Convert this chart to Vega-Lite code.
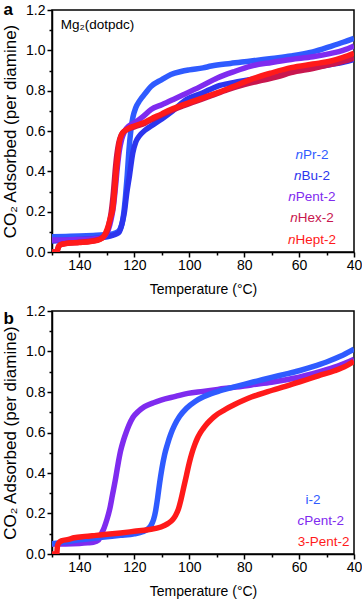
{
  "$schema": "https://vega.github.io/schema/vega-lite/v6.json",
  "padding": {"left": 0, "top": 0, "right": 0, "bottom": 0},
  "spacing": 5,
  "resolve": {"scale": {"color": "independent"}},
  "config": {
    "font": "Liberation Sans",
    "view": {"stroke": "black", "strokeWidth": 1.5},
    "axis": {"grid": false, "domainColor": "black", "domainWidth": 1.5, "tickColor": "black", "tickWidth": 1.5, "tickSize": 5, "labelFontSize": 14, "labelColor": "black", "labelFont": "Liberation Sans", "titleFont": "Liberation Sans", "titleFontSize": 14, "titleFontWeight": "normal", "titleColor": "black", "labelPadding": 2}
  },
  "datasets": {
    "a": [
      {"s":"nPr-2","T":150,"v":0.075},{"s":"nPr-2","T":145,"v":0.077},{"s":"nPr-2","T":140,"v":0.079},{"s":"nPr-2","T":135,"v":0.082},{"s":"nPr-2","T":131,"v":0.085},{"s":"nPr-2","T":128,"v":0.09},{"s":"nPr-2","T":126,"v":0.1},{"s":"nPr-2","T":124.5,"v":0.14},{"s":"nPr-2","T":123.8,"v":0.2},{"s":"nPr-2","T":123.2,"v":0.28},{"s":"nPr-2","T":122.6,"v":0.38},{"s":"nPr-2","T":122,"v":0.5},{"s":"nPr-2","T":121.3,"v":0.6},{"s":"nPr-2","T":120.5,"v":0.67},{"s":"nPr-2","T":119.5,"v":0.715},{"s":"nPr-2","T":118,"v":0.752},{"s":"nPr-2","T":116,"v":0.787},{"s":"nPr-2","T":114,"v":0.82},{"s":"nPr-2","T":110,"v":0.855},{"s":"nPr-2","T":106.7,"v":0.88},{"s":"nPr-2","T":103,"v":0.895},{"s":"nPr-2","T":100,"v":0.903},{"s":"nPr-2","T":95,"v":0.913},{"s":"nPr-2","T":92,"v":0.922},{"s":"nPr-2","T":85,"v":0.935},{"s":"nPr-2","T":77.5,"v":0.947},{"s":"nPr-2","T":70,"v":0.96},{"s":"nPr-2","T":63,"v":0.972},{"s":"nPr-2","T":55,"v":0.992},{"s":"nPr-2","T":48.4,"v":1.02},{"s":"nPr-2","T":44,"v":1.04},{"s":"nPr-2","T":40,"v":1.06},
      {"s":"nBu-2","T":150,"v":0.055},{"s":"nBu-2","T":145,"v":0.058},{"s":"nBu-2","T":140,"v":0.062},{"s":"nBu-2","T":135,"v":0.066},{"s":"nBu-2","T":132,"v":0.07},{"s":"nBu-2","T":130,"v":0.075},{"s":"nBu-2","T":128,"v":0.082},{"s":"nBu-2","T":126.5,"v":0.09},{"s":"nBu-2","T":125.5,"v":0.1},{"s":"nBu-2","T":124.5,"v":0.14},{"s":"nBu-2","T":123.6,"v":0.2},{"s":"nBu-2","T":122.8,"v":0.29},{"s":"nBu-2","T":121.8,"v":0.377},{"s":"nBu-2","T":120.6,"v":0.49},{"s":"nBu-2","T":119.5,"v":0.545},{"s":"nBu-2","T":118.2,"v":0.575},{"s":"nBu-2","T":116,"v":0.605},{"s":"nBu-2","T":113.9,"v":0.625},{"s":"nBu-2","T":110,"v":0.66},{"s":"nBu-2","T":106,"v":0.7},{"s":"nBu-2","T":101.8,"v":0.749},{"s":"nBu-2","T":95,"v":0.79},{"s":"nBu-2","T":89.6,"v":0.823},{"s":"nBu-2","T":84,"v":0.84},{"s":"nBu-2","T":77.5,"v":0.856},{"s":"nBu-2","T":70,"v":0.876},{"s":"nBu-2","T":62.9,"v":0.897},{"s":"nBu-2","T":55,"v":0.915},{"s":"nBu-2","T":48.4,"v":0.93},{"s":"nBu-2","T":44,"v":0.94},{"s":"nBu-2","T":40,"v":0.955},
      {"s":"nPent-2","T":150,"v":0.06},{"s":"nPent-2","T":145,"v":0.06},{"s":"nPent-2","T":140,"v":0.062},{"s":"nPent-2","T":135,"v":0.065},{"s":"nPent-2","T":132,"v":0.07},{"s":"nPent-2","T":130.5,"v":0.085},{"s":"nPent-2","T":129.5,"v":0.11},{"s":"nPent-2","T":128.5,"v":0.16},{"s":"nPent-2","T":127.6,"v":0.23},{"s":"nPent-2","T":126.9,"v":0.32},{"s":"nPent-2","T":126.2,"v":0.42},{"s":"nPent-2","T":125.5,"v":0.5},{"s":"nPent-2","T":124.6,"v":0.56},{"s":"nPent-2","T":123.5,"v":0.6},{"s":"nPent-2","T":122,"v":0.625},{"s":"nPent-2","T":120,"v":0.64},{"s":"nPent-2","T":117,"v":0.67},{"s":"nPent-2","T":113.9,"v":0.707},{"s":"nPent-2","T":110,"v":0.73},{"s":"nPent-2","T":106,"v":0.755},{"s":"nPent-2","T":101.8,"v":0.782},{"s":"nPent-2","T":96,"v":0.82},{"s":"nPent-2","T":89.6,"v":0.864},{"s":"nPent-2","T":84,"v":0.893},{"s":"nPent-2","T":77.5,"v":0.922},{"s":"nPent-2","T":70,"v":0.94},{"s":"nPent-2","T":62.9,"v":0.955},{"s":"nPent-2","T":55,"v":0.968},{"s":"nPent-2","T":48.4,"v":0.985},{"s":"nPent-2","T":44,"v":1.0},{"s":"nPent-2","T":40,"v":1.022},
      {"s":"nHex-2","T":150,"v":0.0},{"s":"nHex-2","T":148.3,"v":0.0},{"s":"nHex-2","T":147.6,"v":0.03},{"s":"nHex-2","T":146,"v":0.04},{"s":"nHex-2","T":140,"v":0.048},{"s":"nHex-2","T":136,"v":0.053},{"s":"nHex-2","T":133.5,"v":0.06},{"s":"nHex-2","T":132,"v":0.068},{"s":"nHex-2","T":131,"v":0.08},{"s":"nHex-2","T":130,"v":0.1},{"s":"nHex-2","T":129.2,"v":0.14},{"s":"nHex-2","T":128.4,"v":0.2},{"s":"nHex-2","T":127.6,"v":0.3},{"s":"nHex-2","T":127,"v":0.4},{"s":"nHex-2","T":126.4,"v":0.48},{"s":"nHex-2","T":125.7,"v":0.54},{"s":"nHex-2","T":124.8,"v":0.58},{"s":"nHex-2","T":123.5,"v":0.6},{"s":"nHex-2","T":120,"v":0.62},{"s":"nHex-2","T":116,"v":0.64},{"s":"nHex-2","T":113.9,"v":0.655},{"s":"nHex-2","T":110,"v":0.68},{"s":"nHex-2","T":104,"v":0.715},{"s":"nHex-2","T":98,"v":0.745},{"s":"nHex-2","T":92,"v":0.775},{"s":"nHex-2","T":86,"v":0.805},{"s":"nHex-2","T":80,"v":0.83},{"s":"nHex-2","T":74,"v":0.85},{"s":"nHex-2","T":68,"v":0.868},{"s":"nHex-2","T":62.9,"v":0.89},{"s":"nHex-2","T":55,"v":0.91},{"s":"nHex-2","T":48.4,"v":0.93},{"s":"nHex-2","T":44,"v":0.945},{"s":"nHex-2","T":40,"v":0.962},
      {"s":"nHept-2","T":150,"v":0.0},{"s":"nHept-2","T":148.6,"v":0.0},{"s":"nHept-2","T":148,"v":0.01},{"s":"nHept-2","T":147.4,"v":0.03},{"s":"nHept-2","T":146.5,"v":0.038},{"s":"nHept-2","T":145,"v":0.042},{"s":"nHept-2","T":140,"v":0.047},{"s":"nHept-2","T":136,"v":0.052},{"s":"nHept-2","T":133.5,"v":0.058},{"s":"nHept-2","T":132,"v":0.066},{"s":"nHept-2","T":131,"v":0.08},{"s":"nHept-2","T":130.3,"v":0.1},{"s":"nHept-2","T":129.5,"v":0.13},{"s":"nHept-2","T":128.7,"v":0.17},{"s":"nHept-2","T":127.9,"v":0.21},{"s":"nHept-2","T":127.2,"v":0.3},{"s":"nHept-2","T":126.6,"v":0.4},{"s":"nHept-2","T":126,"v":0.48},{"s":"nHept-2","T":125.5,"v":0.54},{"s":"nHept-2","T":124.8,"v":0.575},{"s":"nHept-2","T":124.3,"v":0.59},{"s":"nHept-2","T":122.5,"v":0.61},{"s":"nHept-2","T":120,"v":0.625},{"s":"nHept-2","T":116,"v":0.645},{"s":"nHept-2","T":113.9,"v":0.66},{"s":"nHept-2","T":110,"v":0.685},{"s":"nHept-2","T":107.8,"v":0.7},{"s":"nHept-2","T":101.8,"v":0.732},{"s":"nHept-2","T":95,"v":0.765},{"s":"nHept-2","T":89.6,"v":0.79},{"s":"nHept-2","T":84,"v":0.82},{"s":"nHept-2","T":77.5,"v":0.856},{"s":"nHept-2","T":70,"v":0.888},{"s":"nHept-2","T":62.9,"v":0.914},{"s":"nHept-2","T":55,"v":0.932},{"s":"nHept-2","T":48.4,"v":0.947},{"s":"nHept-2","T":44,"v":0.965},{"s":"nHept-2","T":40,"v":0.985}
    ],
    "aLabels": [
      {"s":"nPr-2","pre":"n","rest":"Pr-2","lx":58.6,"ly":0.482},
      {"s":"nBu-2","pre":"n","rest":"Bu-2","lx":59.1,"ly":0.378},
      {"s":"nPent-2","pre":"n","rest":"Pent-2","lx":61.2,"ly":0.274},
      {"s":"nHex-2","pre":"n","rest":"Hex-2","lx":60.5,"ly":0.167},
      {"s":"nHept-2","pre":"n","rest":"Hept-2","lx":61.3,"ly":0.061}
    ],
    "b": [
      {"s":"cPent-2","T":150,"v":0.05},{"s":"cPent-2","T":145,"v":0.05},{"s":"cPent-2","T":140,"v":0.052},{"s":"cPent-2","T":137,"v":0.055},{"s":"cPent-2","T":135,"v":0.058},{"s":"cPent-2","T":133,"v":0.07},{"s":"cPent-2","T":132,"v":0.1},{"s":"cPent-2","T":131,"v":0.13},{"s":"cPent-2","T":130,"v":0.17},{"s":"cPent-2","T":129,"v":0.22},{"s":"cPent-2","T":128,"v":0.29},{"s":"cPent-2","T":127,"v":0.36},{"s":"cPent-2","T":126,"v":0.44},{"s":"cPent-2","T":125,"v":0.51},{"s":"cPent-2","T":124,"v":0.56},{"s":"cPent-2","T":123,"v":0.6},{"s":"cPent-2","T":122,"v":0.635},{"s":"cPent-2","T":120.5,"v":0.675},{"s":"cPent-2","T":118.5,"v":0.705},{"s":"cPent-2","T":116.3,"v":0.728},{"s":"cPent-2","T":113,"v":0.747},{"s":"cPent-2","T":110.3,"v":0.76},{"s":"cPent-2","T":105,"v":0.778},{"s":"cPent-2","T":100.5,"v":0.793},{"s":"cPent-2","T":95,"v":0.803},{"s":"cPent-2","T":89.6,"v":0.813},{"s":"cPent-2","T":83,"v":0.824},{"s":"cPent-2","T":77.4,"v":0.835},{"s":"cPent-2","T":70,"v":0.848},{"s":"cPent-2","T":65.3,"v":0.859},{"s":"cPent-2","T":60,"v":0.873},{"s":"cPent-2","T":55,"v":0.89},{"s":"cPent-2","T":50,"v":0.91},{"s":"cPent-2","T":45,"v":0.933},{"s":"cPent-2","T":40,"v":0.962},
      {"s":"i-2","T":150,"v":0.05},{"s":"i-2","T":145,"v":0.06},{"s":"i-2","T":140,"v":0.07},{"s":"i-2","T":135,"v":0.078},{"s":"i-2","T":130,"v":0.085},{"s":"i-2","T":125,"v":0.092},{"s":"i-2","T":120,"v":0.1},{"s":"i-2","T":117,"v":0.11},{"s":"i-2","T":115,"v":0.125},{"s":"i-2","T":114,"v":0.14},{"s":"i-2","T":113,"v":0.17},{"s":"i-2","T":112.3,"v":0.21},{"s":"i-2","T":111.5,"v":0.28},{"s":"i-2","T":110.8,"v":0.35},{"s":"i-2","T":110,"v":0.42},{"s":"i-2","T":109,"v":0.49},{"s":"i-2","T":108,"v":0.54},{"s":"i-2","T":106.8,"v":0.59},{"s":"i-2","T":105.4,"v":0.635},{"s":"i-2","T":103.5,"v":0.68},{"s":"i-2","T":101,"v":0.72},{"s":"i-2","T":98,"v":0.752},{"s":"i-2","T":95,"v":0.775},{"s":"i-2","T":92,"v":0.792},{"s":"i-2","T":89,"v":0.805},{"s":"i-2","T":85,"v":0.82},{"s":"i-2","T":80,"v":0.838},{"s":"i-2","T":75,"v":0.855},{"s":"i-2","T":70,"v":0.872},{"s":"i-2","T":65,"v":0.888},{"s":"i-2","T":60,"v":0.905},{"s":"i-2","T":55,"v":0.925},{"s":"i-2","T":50,"v":0.948},{"s":"i-2","T":45,"v":0.976},{"s":"i-2","T":40,"v":1.012},
      {"s":"3-Pent-2","T":150,"v":0.0},{"s":"3-Pent-2","T":148.3,"v":0.0},{"s":"3-Pent-2","T":148,"v":0.04},{"s":"3-Pent-2","T":147.5,"v":0.055},{"s":"3-Pent-2","T":146.5,"v":0.065},{"s":"3-Pent-2","T":144,"v":0.072},{"s":"3-Pent-2","T":141.9,"v":0.08},{"s":"3-Pent-2","T":138,"v":0.087},{"s":"3-Pent-2","T":134,"v":0.092},{"s":"3-Pent-2","T":130,"v":0.097},{"s":"3-Pent-2","T":125,"v":0.104},{"s":"3-Pent-2","T":120,"v":0.112},{"s":"3-Pent-2","T":115,"v":0.12},{"s":"3-Pent-2","T":110.3,"v":0.133},{"s":"3-Pent-2","T":107.8,"v":0.15},{"s":"3-Pent-2","T":106,"v":0.17},{"s":"3-Pent-2","T":105,"v":0.19},{"s":"3-Pent-2","T":104,"v":0.22},{"s":"3-Pent-2","T":103,"v":0.27},{"s":"3-Pent-2","T":102,"v":0.33},{"s":"3-Pent-2","T":101,"v":0.39},{"s":"3-Pent-2","T":100,"v":0.45},{"s":"3-Pent-2","T":99,"v":0.5},{"s":"3-Pent-2","T":98,"v":0.54},{"s":"3-Pent-2","T":97,"v":0.573},{"s":"3-Pent-2","T":96,"v":0.598},{"s":"3-Pent-2","T":95,"v":0.618},{"s":"3-Pent-2","T":94,"v":0.636},{"s":"3-Pent-2","T":92.5,"v":0.658},{"s":"3-Pent-2","T":91,"v":0.677},{"s":"3-Pent-2","T":89.6,"v":0.692},{"s":"3-Pent-2","T":87,"v":0.713},{"s":"3-Pent-2","T":83.5,"v":0.738},{"s":"3-Pent-2","T":80,"v":0.76},{"s":"3-Pent-2","T":77.4,"v":0.775},{"s":"3-Pent-2","T":71.4,"v":0.802},{"s":"3-Pent-2","T":65,"v":0.828},{"s":"3-Pent-2","T":59.2,"v":0.852},{"s":"3-Pent-2","T":53,"v":0.88},{"s":"3-Pent-2","T":47.1,"v":0.905},{"s":"3-Pent-2","T":43,"v":0.928},{"s":"3-Pent-2","T":40,"v":0.952}
    ],
    "bLabels": [
      {"s":"i-2","pre":"","rest":"i-2","lx":57.7,"ly":0.267},
      {"s":"cPent-2","pre":"c","rest":"Pent-2","lx":58.1,"ly":0.163},
      {"s":"3-Pent-2","pre":"","rest":"3-Pent-2","lx":60.5,"ly":0.059}
    ],
    "aNote": [{"t":"Mg₂(dotpdc)","lx":146.8,"ly":1.124}]
  },
  "vconcat": [
    {
      "width": 302, "height": 242,
      "title": {"text": "a", "anchor": "start", "frame": "bounds", "fontSize": 17, "fontWeight": "bold", "offset": -16, "dx": 2, "font": "Liberation Sans", "color": "black"},
      "resolve": {"axis": {"x": "independent", "y": "independent"}},
      "layer": [
        {
          "data": {"name": "a"},
          "mark": {"type": "line", "strokeWidth": 5.5, "interpolate": "monotone", "clip": true},
          "encoding": {
            "x": {"field": "T", "type": "quantitative", "scale": {"domain": [40, 150], "reverse": true, "nice": false}, "axis": {"orient": "bottom", "values": [140, 120, 100, 80, 60, 40], "labelFlush": false, "labelPadding": 1.5, "title": "Temperature (°C)", "titlePadding": 10}},
            "y": {"field": "v", "type": "quantitative", "scale": {"domain": [0, 1.2], "nice": false}, "axis": {"orient": "left", "values": [0, 0.2, 0.4, 0.6, 0.8, 1.0, 1.2], "format": ".1f", "title": "CO₂ Adsorbed (per diamine)", "titleFontSize": 17, "titlePadding": 6}},
            "color": {"field": "s", "type": "nominal", "scale": {"domain": ["nPr-2", "nBu-2", "nPent-2", "nHex-2", "nHept-2"], "range": ["#2F5BFF", "#2C35EE", "#7F2BEF", "#C8164E", "#FF1A1A"]}, "legend": null},
            "order": {"field": "T", "sort": "descending"}
          }
        },
        {
          "data": {"name": "aLabels"},
          "mark": {"type": "text", "align": "left", "baseline": "middle", "fontSize": 13.5, "font": "Liberation Sans"},
          "encoding": {
            "x": {"field": "lx", "type": "quantitative", "axis": {"orient": "bottom", "values": [150, 130, 110, 90, 70, 50], "labels": false, "domain": false, "tickSize": 3, "title": null}},
            "y": {"field": "ly", "type": "quantitative", "axis": {"orient": "left", "values": [0.1, 0.3, 0.5, 0.7, 0.9, 1.1], "labels": false, "domain": false, "tickSize": 3, "title": null}},
            "text": {"field": "rest"},
            "color": {"field": "s", "type": "nominal", "legend": null}
          }
        },
        {
          "data": {"name": "aLabels"},
          "mark": {"type": "text", "align": "right", "baseline": "middle", "fontSize": 13.5, "fontStyle": "italic", "font": "Liberation Sans"},
          "encoding": {
            "x": {"field": "lx", "type": "quantitative", "axis": null},
            "y": {"field": "ly", "type": "quantitative", "axis": null},
            "text": {"field": "pre"},
            "color": {"field": "s", "type": "nominal", "legend": null}
          }
        },
        {
          "data": {"name": "aNote"},
          "mark": {"type": "text", "align": "left", "baseline": "middle", "fontSize": 13.5, "font": "Liberation Sans", "color": "black"},
          "encoding": {
            "x": {"field": "lx", "type": "quantitative", "axis": null},
            "y": {"field": "ly", "type": "quantitative", "axis": null},
            "text": {"field": "t"}
          }
        }
      ]
    },
    {
      "width": 302, "height": 243,
      "title": {"text": "b", "anchor": "start", "frame": "bounds", "fontSize": 17, "fontWeight": "bold", "offset": -24, "dx": 2, "font": "Liberation Sans", "color": "black"},
      "resolve": {"axis": {"x": "independent", "y": "independent"}},
      "layer": [
        {
          "data": {"name": "b"},
          "mark": {"type": "line", "strokeWidth": 5.5, "interpolate": "monotone", "clip": true},
          "encoding": {
            "x": {"field": "T", "type": "quantitative", "scale": {"domain": [40, 150], "reverse": true, "nice": false}, "axis": {"orient": "bottom", "values": [140, 120, 100, 80, 60, 40], "labelFlush": false, "labelPadding": 1.5, "title": "Temperature (°C)", "titlePadding": 10}},
            "y": {"field": "v", "type": "quantitative", "scale": {"domain": [0, 1.2], "nice": false}, "axis": {"orient": "left", "values": [0, 0.2, 0.4, 0.6, 0.8, 1.0, 1.2], "format": ".1f", "title": "CO₂ Adsorbed (per diamine)", "titleFontSize": 17, "titlePadding": 6}},
            "color": {"field": "s", "type": "nominal", "scale": {"domain": ["i-2", "cPent-2", "3-Pent-2"], "range": ["#2F5BFF", "#7F2BEF", "#FF1A1A"]}, "legend": null},
            "order": {"field": "T", "sort": "descending"}
          }
        },
        {
          "data": {"name": "bLabels"},
          "mark": {"type": "text", "align": "left", "baseline": "middle", "fontSize": 13.5, "font": "Liberation Sans"},
          "encoding": {
            "x": {"field": "lx", "type": "quantitative", "axis": {"orient": "bottom", "values": [150, 130, 110, 90, 70, 50], "labels": false, "domain": false, "tickSize": 3, "title": null}},
            "y": {"field": "ly", "type": "quantitative", "axis": {"orient": "left", "values": [0.1, 0.3, 0.5, 0.7, 0.9, 1.1], "labels": false, "domain": false, "tickSize": 3, "title": null}},
            "text": {"field": "rest"},
            "color": {"field": "s", "type": "nominal", "legend": null}
          }
        },
        {
          "data": {"name": "bLabels"},
          "mark": {"type": "text", "align": "right", "baseline": "middle", "fontSize": 13.5, "fontStyle": "italic", "font": "Liberation Sans"},
          "encoding": {
            "x": {"field": "lx", "type": "quantitative", "axis": null},
            "y": {"field": "ly", "type": "quantitative", "axis": null},
            "text": {"field": "pre"},
            "color": {"field": "s", "type": "nominal", "legend": null}
          }
        }
      ]
    }
  ]
}
